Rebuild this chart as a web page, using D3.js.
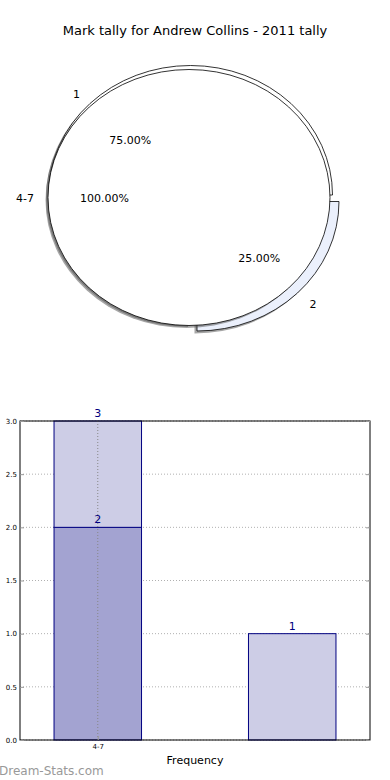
<!DOCTYPE html>
<html>
<head>
<meta charset="utf-8">
<script src="https://cdn.jsdelivr.net/npm/d3@7"></script>
<style>
  body { margin: 0; background: #fff; }
  text { font-family: "DejaVu Sans", sans-serif; }
</style>
</head>
<body>
<div id="chart"></div>
<script>
  const title = "Mark tally for Andrew Collins - 2011 tally";

  // outer pie: one group holding everything
  const pieOuterLabels = ["4-7"];
  const pieOuterValues = [3];
  // inner pie: mark split
  const pieInnerLabels = ["1", "2"];
  const pieInnerValues = [3, 1];

  // bar chart
  const barCategories = ["4-7", ""];
  const barLower = [2, 0];
  const barUpper = [1, 1];
  const yTicks = [0, 0.5, 1, 1.5, 2, 2.5, 3];

  const width = 390, height = 780;

  const svg = d3.select("#chart")
    .append("svg")
    .attr("width", width)
    .attr("height", height);

  svg.append("text")
    .attr("x", 195)
    .attr("y", 35)
    .attr("text-anchor", "middle")
    .style("font-size", "13px")
    .text(title);

  // ---------- pie (squashed to an ellipse like the original) ----------
  const cx = 189, cy = 197.5, rx = 141, ry = 128;
  const shadowDx = -2.5, shadowDy = 2.5;

  const pie = d3.pie().sort(null).startAngle(-Math.PI).endAngle(Math.PI);
  const arc = d3.arc().innerRadius(0).outerRadius(1);

  function ellipseGroup(x, y, sx, sy) {
    return svg.append("g")
      .attr("transform", `translate(${x},${y}) scale(${sx},${sy})`);
  }

  // inner pie sits a touch up and right, slice "2" pulled out
  const innerCx = cx + 1.5, innerCy = cy - 2.5;
  const innerRx = rx + 1, innerRy = ry + 1.5;
  const explode = [0, 6.5];
  const innerColors = ["#ffffff", "#ebf0fc"];

  function explodeOffset(d, i) {
    const mid = (d.startAngle + d.endAngle) / 2;
    return [Math.sin(mid) * explode[i] * Math.SQRT2, -Math.cos(mid) * explode[i] * Math.SQRT2];
  }

  pie(pieInnerValues).forEach((d, i) => {
    const [ox, oy] = explodeOffset(d, i);
    ellipseGroup(innerCx + ox + shadowDx, innerCy + oy + shadowDy, innerRx, innerRy)
      .append("path")
      .attr("d", arc(d))
      .attr("fill", "rgba(77,77,77,0.5)");
    ellipseGroup(innerCx + ox, innerCy + oy, innerRx, innerRy)
      .append("path")
      .attr("d", arc(d))
      .attr("fill", innerColors[i])
      .attr("stroke", "#000")
      .attr("stroke-width", 0.8)
      .attr("vector-effect", "non-scaling-stroke");
  });

  pie(pieOuterValues).forEach(d => {
    ellipseGroup(cx + shadowDx, cy + shadowDy, rx, ry)
      .append("path")
      .attr("d", arc(d))
      .attr("fill", "rgba(77,77,77,0.5)");
    ellipseGroup(cx, cy, rx, ry)
      .append("path")
      .attr("d", arc(d))
      .attr("fill", "#fff")
      .attr("stroke", "#000")
      .attr("stroke-width", 0.8)
      .attr("vector-effect", "non-scaling-stroke");
  });

  // labels: names outside (1.1r), percents inside (0.6r)
  function pieText(d, total, cxx, cyy, rrx, rry, labels) {
    const mid = (d.startAngle + d.endAngle) / 2;
    const sx = Math.sin(mid), sy = -Math.cos(mid);
    const anchorOut = sx < -0.01 ? "end" : sx > 0.01 ? "start" : "middle";
    svg.append("text")
      .attr("x", cxx + sx * rrx * 1.1)
      .attr("y", cyy + sy * rry * 1.1)
      .attr("dy", "0.35em")
      .attr("text-anchor", anchorOut)
      .style("font-size", "11px")
      .text(labels[d.index]);
    svg.append("text")
      .attr("x", cxx + sx * rrx * 0.6)
      .attr("y", cyy + sy * rry * 0.6)
      .attr("dy", "0.35em")
      .attr("text-anchor", "middle")
      .style("font-size", "11px")
      .text((d.value / total * 100).toFixed(2) + "%");
  }

  pie(pieOuterValues).forEach(d => {
    // full circle: matplotlib puts its label at the start angle (west side)
    const dd = Object.assign({}, d, { startAngle: -Math.PI / 2, endAngle: -Math.PI / 2 });
    pieText(dd, d3.sum(pieOuterValues), cx, cy + 0.5, rx, ry, pieOuterLabels);
  });
  pie(pieInnerValues).forEach((d, i) => {
    const [ox, oy] = explodeOffset(d, i);
    pieText(d, d3.sum(pieInnerValues), innerCx + ox * 1.3, innerCy + oy * 1.3, innerRx, innerRy, pieInnerLabels);
  });

  // ---------- bar chart ----------
  const plot = { left: 20, right: 370, top: 421, bottom: 740 };

  const x = d3.scaleLinear().domain([-0.4, 1.4]).range([plot.left, plot.right]);
  const y = d3.scaleLinear().domain([0, 3]).range([plot.bottom, plot.top]);
  const barW = 0.45;

  const g = svg.append("g");

  // horizontal grid
  g.selectAll(".hgrid")
    .data(yTicks)
    .enter()
    .append("line")
    .attr("x1", plot.left).attr("x2", plot.right)
    .attr("y1", d => y(d)).attr("y2", d => y(d))
    .attr("stroke", "#b0b0b0")
    .attr("stroke-dasharray", "1,2");

  // bars
  const lowerColor = "#a3a3d1", upperColor = "#cdcde6", edge = "#000080";
  barCategories.forEach((c, i) => {
    if (barLower[i] > 0) {
      g.append("rect")
        .attr("x", x(i - barW / 2))
        .attr("width", x(barW) - x(0))
        .attr("y", y(barLower[i]))
        .attr("height", y(0) - y(barLower[i]))
        .attr("fill", lowerColor)
        .attr("stroke", edge);
    }
    g.append("rect")
      .attr("x", x(i - barW / 2))
      .attr("width", x(barW) - x(0))
      .attr("y", y(barLower[i] + barUpper[i]))
      .attr("height", y(barLower[i]) - y(barLower[i] + barUpper[i]))
      .attr("fill", upperColor)
      .attr("stroke", edge);
  });

  // vertical grid on the labelled category
  barCategories.forEach((c, i) => {
    if (!c) return;
    g.append("line")
      .attr("x1", x(i)).attr("x2", x(i))
      .attr("y1", plot.top).attr("y2", plot.bottom)
      .attr("stroke", "#888")
      .attr("stroke-dasharray", "1,2");
  });

  // value labels (running totals)
  barCategories.forEach((c, i) => {
    const tops = [];
    if (barLower[i] > 0) tops.push(barLower[i]);
    tops.push(barLower[i] + barUpper[i]);
    tops.forEach(v => {
      g.append("text")
        .attr("x", x(i))
        .attr("y", y(v) - 4)
        .attr("text-anchor", "middle")
        .attr("fill", "#000080")
        .style("font-size", "11px")
        .text(v);
    });
  });

  // frame
  g.append("rect")
    .attr("x", plot.left).attr("y", plot.top)
    .attr("width", plot.right - plot.left)
    .attr("height", plot.bottom - plot.top)
    .attr("fill", "none")
    .attr("stroke", "#000");

  // y axis
  const yAxis = g.append("g")
    .attr("transform", `translate(${plot.left},0)`)
    .call(d3.axisLeft(y).tickValues(yTicks).tickFormat(d3.format(".1f")).tickSize(-4).tickPadding(3));
  yAxis.select(".domain").remove();
  yAxis.selectAll("line").attr("stroke", "#999");
  yAxis.selectAll("text").style("font-size", "7px").attr("fill", "#000");

  const yAxisR = g.append("g")
    .attr("transform", `translate(${plot.right},0)`)
    .call(d3.axisRight(y).tickValues(yTicks).tickFormat("").tickSize(-4));
  yAxisR.select(".domain").remove();
  yAxisR.selectAll("line").attr("stroke", "#999");

  // x axis
  const xAxis = g.append("g")
    .attr("transform", `translate(0,${plot.bottom})`)
    .call(d3.axisBottom(x).tickValues([0]).tickFormat(i => barCategories[i]).tickSize(-4).tickPadding(4));
  xAxis.select(".domain").remove();
  xAxis.selectAll("line").attr("stroke", "#999");
  xAxis.selectAll("text").style("font-size", "7px").attr("fill", "#000");

  svg.append("text")
    .attr("x", 195)
    .attr("y", 764)
    .attr("text-anchor", "middle")
    .style("font-size", "11px")
    .text("Frequency");

  svg.append("text")
    .attr("x", -1)
    .attr("y", 775)
    .attr("fill", "#999")
    .style("font-size", "12px")
    .text("Dream-Stats.com");
</script>
</body>
</html>
